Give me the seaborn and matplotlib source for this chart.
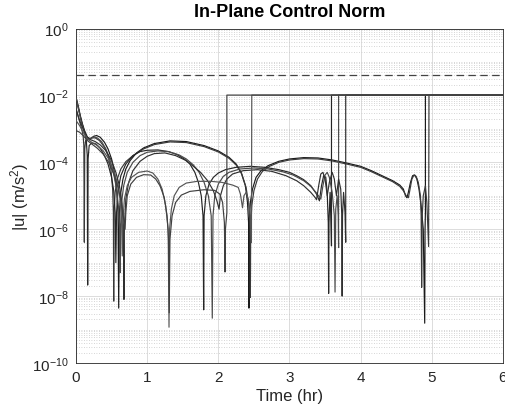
import numpy as np
import pandas as pd
import matplotlib
matplotlib.use("Agg")
import matplotlib.pyplot as plt
import matplotlib.ticker as mticker
import seaborn as sns

# ---- data: time (hr) and log10 |u| (m/s^2) ----
SAT = -1.99          # saturation level (log10)
LIMIT = 0.04         # dashed limit line

a_t = [0, 0.03, 0.06, 0.09, 0.12, 0.16, 0.2, 0.25, 0.29, 0.34, 0.4, 0.45, 0.5, 0.54, 0.57, 0.59, 0.60, 0.61,
       0.63, 0.66, 0.7, 0.76, 0.85, 0.95, 1.1, 1.32, 1.55, 1.8, 2.0, 2.15, 2.25, 2.32, 2.38, 2.41, 2.425,
       2.43, 2.435, 2.45, 2.48, 2.53, 2.6, 2.7, 2.85, 3.0, 3.2, 3.4, 3.6, 3.8, 4.0, 4.15, 4.3, 4.45, 4.55,
       4.6, 4.63, 4.65, 4.67, 4.7, 4.73, 4.76, 4.79, 4.82, 4.85, 4.88, 4.90, 4.905, 4.91, 4.91, 6.0]
a_e = [-2.05, -2.3, -2.6, -2.85, -3.05, -3.25, -3.3, -3.22, -3.2, -3.25, -3.4, -3.6, -3.9, -4.3, -4.8, -5.5,
       -8.36, -5.5, -4.9, -4.5, -4.2, -3.95, -3.72, -3.57, -3.44, -3.36, -3.38, -3.5, -3.66, -3.85, -4.05,
       -4.3, -4.7, -5.2, -5.8, -8.36, -5.8, -5.2, -4.8, -4.45, -4.25, -4.1, -3.97, -3.9, -3.86, -3.87, -3.93,
       -4.02, -4.12, -4.25, -4.4, -4.55, -4.68, -4.8, -5.0, -5.06, -4.9, -4.6, -4.4, -4.38, -4.5, -4.8, -5.3,
       -6.0, -8.81, -6.0, -5.5, SAT, SAT]

b_t = [0, 0.04, 0.08, 0.1, 0.11, 0.117, 0.123, 0.135, 0.17, 0.22, 0.27, 0.33, 0.4, 0.45, 0.49, 0.515, 0.525,
       0.53, 0.535, 0.55, 0.58, 0.63, 0.7, 0.8, 0.95, 1.1, 1.32, 1.55, 1.8, 2.0, 2.15, 2.25, 2.33, 2.39, 2.43,
       2.445, 2.45, 2.455, 2.47, 2.5, 2.55, 2.62, 2.72, 2.85, 3.0, 3.2, 3.4, 3.6, 3.8, 4.0, 4.15, 4.3, 4.45,
       4.55, 4.6, 4.64, 4.67, 4.69, 4.72, 4.75, 4.78, 4.81, 4.84, 4.85, 4.857, 4.865, 4.88, 4.91, 4.93,
       4.955, 4.96, 6.0]
b_e = [-2.4, -2.7, -3.0, -3.2, -3.5, -6.39, -3.6, -3.35, -3.3, -3.27, -3.27, -3.35, -3.55, -3.8, -4.2, -4.8,
       -5.5, -8.15, -5.5, -4.9, -4.5, -4.2, -3.98, -3.8, -3.6, -3.47, -3.39, -3.41, -3.53, -3.69, -3.88,
       -4.08, -4.35, -4.75, -5.3, -6.0, -8.04, -6.0, -5.3, -4.85, -4.5, -4.27, -4.12, -4.0, -3.93, -3.89,
       -3.9, -3.96, -4.05, -4.15, -4.28, -4.43, -4.58, -4.72, -4.85, -5.0, -5.06, -4.85, -4.5, -4.38, -4.42,
       -4.6, -5.0, -5.6, -7.74, -5.6, -5.0, -4.7, -5.2, -6.52, SAT, SAT]

c_t = [0, 0.04, 0.08, 0.12, 0.145, 0.158, 0.164, 0.17, 0.185, 0.22, 0.28, 0.34, 0.4, 0.45, 0.5, 0.53, 0.55,
       0.56, 0.57, 0.59, 0.63, 0.7, 0.8, 0.9, 1.0, 1.15, 1.3, 1.42, 1.52, 1.6, 1.67, 1.72, 1.76, 1.785, 1.794,
       1.80, 1.825, 1.87, 1.93, 2.0, 2.1, 2.25, 2.45, 2.65, 2.85, 3.0, 3.1, 3.2, 3.3, 3.38, 3.42, 3.45, 3.48,
       3.51, 3.53, 3.545, 3.55, 3.555, 3.57, 3.58, 3.59, 3.59, 6.0]
c_e = [-2.1, -2.45, -2.8, -3.1, -3.35, -3.8, -7.67, -3.9, -3.5, -3.42, -3.45, -3.58, -3.8, -4.05, -4.45,
       -4.85, -5.5, -7.0, -5.5, -4.85, -4.4, -4.05, -3.8, -3.68, -3.64, -3.63, -3.68, -3.77, -3.9, -4.05,
       -4.3, -4.6, -5.0, -5.6, -8.41, -5.6, -5.0, -4.65, -4.45, -4.32, -4.22, -4.15, -4.12, -4.15, -4.22,
       -4.3, -4.4, -4.52, -4.7, -4.95, -5.15, -4.7, -4.4, -4.45, -4.9, -5.8, -7.92, -5.8, -4.9, -5.5, -6.5,
       SAT, SAT]

d_t = [0, 0.03, 0.07, 0.11, 0.15, 0.2, 0.25, 0.3, 0.36, 0.42, 0.48, 0.53, 0.57, 0.6, 0.615, 0.62, 0.625,
       0.64, 0.67, 0.72, 0.8, 0.9, 1.0, 1.15, 1.3, 1.45, 1.55, 1.65, 1.73, 1.8, 1.86, 1.9, 1.915, 1.925, 1.95,
       2.0, 2.07, 2.15, 2.3, 2.5, 2.7, 2.9, 3.05, 3.2, 3.3, 3.38, 3.44, 3.47, 3.5, 3.53, 3.56, 3.6, 3.63,
       3.64, 3.65, 3.67, 3.685, 3.69, 3.69, 6.0]
d_e = [-2.05, -2.35, -2.75, -3.05, -3.3, -3.3, -3.24, -3.27, -3.38, -3.6, -3.95, -4.35, -4.8, -5.4, -6.0,
       -7.3, -6.0, -5.2, -4.7, -4.3, -4.0, -3.8, -3.7, -3.66, -3.68, -3.78, -3.9, -4.08, -4.3, -4.6, -5.0,
       -5.6, -8.66, -5.6, -5.0, -4.65, -4.42, -4.3, -4.2, -4.17, -4.2, -4.28, -4.38, -4.55, -4.72, -4.92,
       -5.1, -4.7, -4.38, -4.3, -4.45, -4.9, -5.6, -7.88, -5.4, -5.0, -5.6, -6.55, SAT, SAT]

e_t = [0, 0.05, 0.1, 0.15, 0.2, 0.27, 0.34, 0.42, 0.5, 0.56, 0.61, 0.645, 0.665, 0.674, 0.68, 0.7, 0.74,
       0.8, 0.9, 1.0, 1.1, 1.25, 1.4, 1.55, 1.65, 1.75, 1.85, 1.93, 1.98, 2.01, 2.03, 2.07, 2.12, 2.2, 2.35,
       2.55, 2.75, 2.95, 3.1, 3.2, 3.3, 3.36, 3.38, 3.41, 3.44, 3.47, 3.5, 3.53, 3.56, 3.6, 3.63, 3.66,
       3.69, 3.72, 3.735, 3.74, 3.745, 3.76, 3.78, 3.79, 3.79, 6.0]
e_e = [-2.4, -2.75, -3.0, -3.22, -3.32, -3.38, -3.48, -3.65, -3.95, -4.3, -4.7, -5.2, -5.9, -8.1, -5.9,
       -5.1, -4.6, -4.25, -3.97, -3.82, -3.74, -3.72, -3.8, -3.95, -4.12, -4.3, -4.55, -4.85, -5.15, -5.4,
       -5.0, -4.7, -4.5, -4.35, -4.25, -4.22, -4.27, -4.4, -4.55, -4.7, -4.9, -5.05, -5.12, -4.7, -4.35,
       -4.3, -4.5, -5.0, -4.6, -4.3, -4.5, -5.0, -4.5, -4.8, -5.6, -8.0, -5.6, -4.9, -5.5, -6.39, SAT, SAT]

f_t = [0, 0.05, 0.1, 0.16, 0.22, 0.3, 0.38, 0.46, 0.53, 0.58, 0.62, 0.64, 0.65, 0.66, 0.68, 0.72, 0.78,
       0.88, 1.0, 1.08, 1.15, 1.21, 1.26, 1.295, 1.307, 1.315, 1.34, 1.38, 1.45, 1.55, 1.7, 1.9, 2.05, 2.2,
       2.28, 2.31, 2.34, 2.36, 2.39, 2.42, 2.45, 2.465, 2.47, 6.0]
f_e = [-2.75, -2.9, -3.1, -3.3, -3.4, -3.5, -3.65, -3.9, -4.25, -4.6, -5.1, -5.7, -6.8, -5.7, -5.1, -4.7,
       -4.45, -4.3, -4.26, -4.32, -4.5, -4.8, -5.3, -6.0, -8.93, -6.0, -5.4, -5.0, -4.75, -4.62, -4.57,
       -4.57, -4.6, -4.68, -4.75, -4.95, -5.36, -5.0, -4.9, -5.1, -5.6, -6.4, SAT, SAT]

g_t = [0, 0.05, 0.1, 0.16, 0.22, 0.3, 0.38, 0.46, 0.53, 0.59, 0.64, 0.67, 0.69, 0.70, 0.72, 0.77, 0.85,
       0.95, 1.05, 1.12, 1.18, 1.24, 1.28, 1.30, 1.31, 1.32, 1.35, 1.4, 1.48, 1.6, 1.8, 1.95, 2.02, 2.06,
       2.085, 2.094, 2.1, 2.12, 2.12, 6.0]
g_e = [-3.05, -3.1, -3.2, -3.35, -3.45, -3.58, -3.75, -4.0, -4.35, -4.75, -5.2, -5.7, -6.0, -5.5, -5.0,
       -4.65, -4.45, -4.37, -4.38, -4.5, -4.7, -5.05, -5.6, -6.3, -8.5, -6.3, -5.6, -5.2, -4.98, -4.87,
       -4.82, -4.84, -4.95, -5.2, -5.8, -7.28, -6.0, -5.5, SAT, SAT]

curves = [(a_t, a_e, "#1a1a1a"), (b_t, b_e, "#3a3a3a"), (c_t, c_e, "#262626"),
          (d_t, d_e, "#4a4a4a"), (e_t, e_e, "#303030"), (f_t, f_e, "#555555"),
          (g_t, g_e, "#404040")]

# ---- plot ----
sns.set_style("white")
plt.rcParams["font.family"] = ["Liberation Sans", "DejaVu Sans"]
plt.rcParams["mathtext.fontset"] = "custom"
plt.rcParams["mathtext.rm"] = "Liberation Sans"
plt.rcParams["mathtext.it"] = "Liberation Sans:italic"

fig = plt.figure(figsize=(5.05, 4.14), dpi=100)
ax = fig.add_axes([0.1505, 0.1208, 0.8455, 0.8079])

for t, e, col in curves:
    df = pd.DataFrame({"t": t, "u": 10.0 ** np.array(e)})
    sns.lineplot(data=df, x="t", y="u", sort=False, estimator=None, color=col,
                 lw=0.85, ax=ax, zorder=3)

ax.axhline(LIMIT, color="#444444", lw=0.9, ls=(0, (6, 3.5)), zorder=3)

ax.set_yscale("log")
ax.set_xlim(0, 6)
ax.set_ylim(1e-10, 1e0)
ax.set_xticks([0, 1, 2, 3, 4, 5, 6])
ax.yaxis.set_major_locator(mticker.FixedLocator([1e0, 1e-2, 1e-4, 1e-6, 1e-8, 1e-10]))
ax.yaxis.set_minor_locator(mticker.LogLocator(base=10, subs=np.arange(1, 10), numticks=30))
ax.yaxis.set_minor_formatter(mticker.NullFormatter())

ax.grid(True, which="major", color="#dcdcdc", lw=0.7, ls="-", zorder=0)
ax.yaxis.grid(True, which="minor", color="#c8c8c8", lw=0.6, ls=(0, (1, 2)), zorder=0)

ax.tick_params(axis="both", which="major", direction="in", length=4, width=0.6,
               labelsize=11, colors="#262626", pad=5)
ax.tick_params(axis="y", which="minor", direction="in", length=2, width=0.5, colors="#262626")
ax.tick_params(axis="both", labelcolor="#262626")
for s in ax.spines.values():
    s.set_visible(True)
    s.set_color("#262626")
    s.set_linewidth(0.6)

ax.set_xlabel("Time (hr)", fontsize=12, color="#262626", labelpad=3)
ax.set_ylabel("|u| (m/s$^2$)", fontsize=12, color="#262626", labelpad=1)
ax.set_title("In-Plane Control Norm", fontsize=13, fontweight="bold", color="#000000", pad=9)

fig.savefig("out.png", dpi=100)
